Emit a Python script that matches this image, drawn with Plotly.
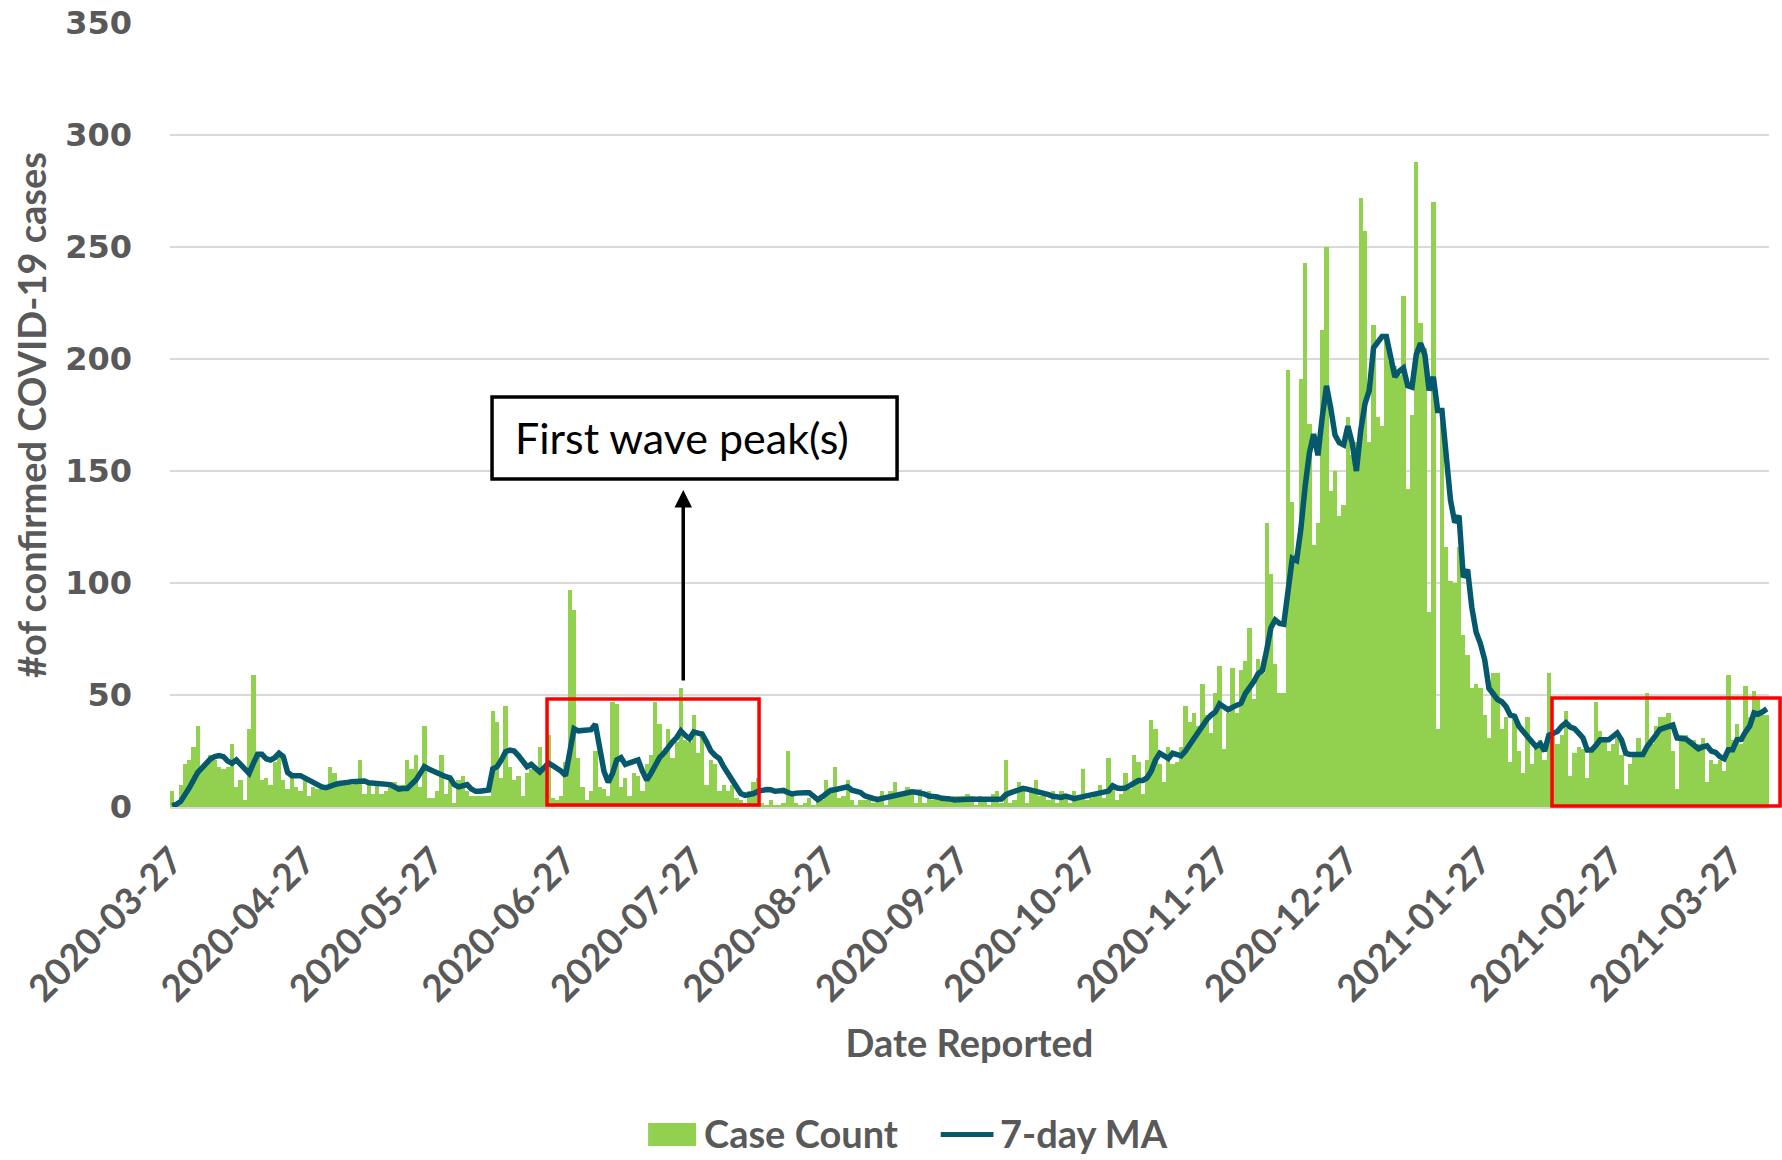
import pandas as pd
import plotly.graph_objects as go

start_date = "2020-03-27"

case_count = [
    7, 2, 10, 19, 21, 27, 36, 18, 19, 23,
    21, 18, 17, 18, 28, 9, 12, 3, 35, 59,
    24, 12, 13, 10, 20, 24, 12, 8, 13, 9,
    7, 14, 5, 9, 8, 9, 8, 18, 15, 10,
    10, 11, 10, 11, 21, 6, 10, 6, 10, 6,
    7, 9, 11, 10, 10, 21, 17, 23, 9, 36,
    4, 4, 7, 23, 6, 12, 2, 12, 14, 7,
    5, 5, 5, 5, 5, 43, 38, 13, 45, 18,
    12, 14, 5, 15, 17, 17, 27, 16, 32, 4,
    3, 5, 20, 97, 88, 22, 9, 3, 7, 25,
    9, 8, 5, 47, 46, 9, 13, 5, 15, 14,
    7, 19, 23, 47, 37, 24, 35, 22, 29, 53,
    30, 29, 41, 24, 34, 10, 21, 19, 7, 10,
    7, 10, 4, 3, 2, 7, 11, 13, 2, 1,
    3, 1, 1, 2, 25, 5, 2, 1, 2, 4,
    1, 3, 3, 12, 7, 18, 4, 5, 12, 3,
    1, 3, 3, 3, 2, 4, 7, 1, 7, 11,
    6, 5, 9, 7, 2, 8, 2, 7, 3, 5,
    5, 4, 3, 5, 5, 5, 6, 3, 1, 5,
    4, 1, 6, 7, 2, 21, 2, 3, 11, 9,
    2, 7, 12, 5, 6, 3, 7, 2, 7, 6,
    2, 7, 4, 17, 3, 4, 6, 10, 4, 22,
    8, 3, 6, 15, 8, 23, 20, 6, 21, 39,
    35, 19, 11, 27, 19, 20, 27, 45, 38, 42,
    36, 55, 41, 33, 51, 63, 26, 42, 62, 42,
    61, 65, 80, 48, 66, 60, 127, 104, 64, 51,
    51, 195, 136, 113, 191, 243, 171, 117, 127, 213,
    250, 141, 150, 130, 135, 174, 157, 163, 272, 257,
    163, 215, 174, 170, 209, 199, 197, 193, 228, 142,
    175, 288, 216, 205, 87, 270, 35, 173, 116, 101,
    100, 116, 77, 68, 53, 55, 53, 41, 31, 60,
    60, 35, 40, 20, 40, 25, 15, 40, 19, 26,
    30, 21, 60, 32, 28, 32, 43, 14, 24, 27,
    26, 13, 26, 47, 34, 31, 25, 28, 31, 23,
    10, 19, 23, 31, 24, 51, 28, 36, 40, 40,
    42, 25, 8, 32, 32, 30, 30, 28, 31, 11,
    21, 19, 21, 16, 59, 30, 37, 28, 54, 40,
    52, 49, 41, 41,
]

ma_7day = [
    0.6, 1.2, 2.5, 5, 8.5, 12, 15.5, 17.5, 19.5, 21.5,
    22.5, 23, 22.5, 20.5, 19.5, 21, 19, 17, 15, 19.5,
    23.5, 23.5, 21.5, 21, 22, 24, 22.5, 15.5, 14, 14,
    14, 13, 12, 10.5, 9.5, 9, 8.6, 9, 10, 10.5,
    11, 11, 11.3, 11.5, 11.6, 11.6, 10.8, 10.6, 10.6, 10.6,
    10.3, 10, 9, 8, 8.3, 8.3, 10.2, 12, 15, 18,
    17, 16, 15, 14, 13.5, 13, 10, 9, 9.5, 10,
    8, 7, 7, 7, 7.6, 17, 18, 21, 24.7, 25.4,
    25, 23, 20, 18, 19, 17, 15.6, 17.5, 19.6, 18.5,
    17.5, 16, 14, 24, 35, 34, 34, 34, 34.5, 37,
    26, 16, 11, 15, 21, 22, 19, 19.5, 20.5, 21,
    16, 12, 15, 19, 22, 24, 27, 29, 31, 34,
    32, 30.5, 33.5, 33, 32.4, 29, 25, 23, 21.6, 18,
    15, 11, 8, 6, 5.2, 5.5, 6, 7, 7.5, 7.8,
    7.7, 7, 7.2, 7.4, 6.5, 5.8, 6.2, 6.6, 6.4, 6.4,
    4.5, 3.3, 4.5, 6, 7.4, 7.7, 8, 8.2, 9, 7.5,
    7, 6.5, 5, 4.2, 3.8, 3.4, 3.8, 4.3, 5, 5.6,
    6, 6.3, 6.6, 6.8, 6.6, 6.4, 5.8, 4.9, 5, 4.5,
    3.9, 3.9, 3.6, 3.1, 3.3, 3.6, 3.8, 3.6, 3.5, 3.4,
    3.3, 3.2, 3.3, 3.5, 3.6, 5.5, 6.3, 6.8, 7.5, 8.3,
    8, 7.6, 6.9, 6.7, 6.5, 5.5, 4.8, 4.5, 4.3, 4.9,
    4, 3.7, 4.2, 4.6, 5.6, 6, 6.2, 6.5, 6.8, 7.1,
    9.5, 8.5, 8.3, 8.5, 9.5, 11, 11.8, 11.8, 13, 16,
    21, 24, 23, 21.7, 24, 23.5, 22.8, 25, 28, 31,
    34, 37, 39, 41, 42.4, 46, 45, 43.4, 44.5, 45.3,
    46.3, 50.6, 53, 56, 59.5, 61, 70, 80, 83.5, 82,
    81.6, 96, 111, 110, 124, 143, 158, 166.5, 157, 174,
    188, 178, 166, 162.6, 161.6, 170, 162.6, 150, 168, 180,
    186, 205, 208, 210, 210, 199.4, 192, 194.6, 196, 188,
    187.4, 202, 207, 202, 186, 192, 177, 177, 155, 137,
    127, 130, 102.5, 106, 89, 78, 73, 65.7, 53, 50,
    48, 47, 44.8, 41, 40.5, 36, 33.7, 31, 29, 27,
    28.3, 25, 32, 33, 33.7, 36, 37.6, 35.7, 35, 33,
    30.8, 25.4, 25.4, 27.5, 30, 30, 30, 31.5, 33, 30,
    24, 23.4, 23.4, 23.4, 23.4, 27, 30, 32, 34.7, 35.5,
    36, 36.6, 30.8, 30.6, 30.4, 29, 27.5, 26, 26.8, 27.3,
    25, 24.4, 22.5, 21.5, 25.6, 25.6, 30, 30.2, 33.5, 36.2,
    42, 41.5, 42.5, 43.8,
]

tick_labels = [
    "2020-03-27", "2020-04-27", "2020-05-27", "2020-06-27", "2020-07-27",
    "2020-08-27", "2020-09-27", "2020-10-27", "2020-11-27", "2020-12-27",
    "2021-01-27", "2021-02-27", "2021-03-27",
]

y_ticks = [0, 50, 100, 150, 200, 250, 300, 350]

annotation_text = "First wave peak(s)"
arrow_date = "2020-07-24 13:00"
arrow_head_value = 141.5

dates = pd.date_range(start_date, periods=len(case_count), freq="D")
half_day = pd.Timedelta(hours=12)

GREEN = "#92D050"
TEAL = "#06586C"
GRAY = "#595959"

fig = go.Figure()
fig.add_trace(go.Bar(
    x=dates, y=case_count, name="Case Count",
    marker=dict(color=GREEN, line=dict(width=0)),
))
fig.add_trace(go.Scatter(
    x=dates, y=ma_7day, name="7-day MA", mode="lines",
    line=dict(color=TEAL, width=5.5),
))

fig.update_layout(
    width=1782, height=1160,
    margin=dict(l=170, r=13, t=23, b=353, autoexpand=False),
    plot_bgcolor="white", paper_bgcolor="white",
    bargap=0, showlegend=False,
    xaxis=dict(
        type="date",
        range=[dates[0] - half_day, dates[-1] + half_day],
        tickmode="array", tickvals=tick_labels, ticktext=tick_labels,
        tickangle=-45,
        tickfont=dict(family="Lato", size=37, color=GRAY, weight="bold"),
        ticks="outside", ticklen=16, tickcolor="rgba(0,0,0,0)",
        showgrid=False, zeroline=False, showline=False,
        title=dict(text="Date Reported",
                   font=dict(family="Lato", size=38, color=GRAY, weight="bold"),
                   standoff=21),
        automargin=False,
    ),
    yaxis=dict(
        range=[0, 350], tickmode="array", tickvals=y_ticks,
        gridcolor="#D9D9D9", gridwidth=1.5,
        zeroline=True, zerolinecolor="#D9D9D9", zerolinewidth=2.5,
        tickfont=dict(family="DejaVu Sans", size=32, color=GRAY, weight="bold"),
        ticks="", ticklabelstandoff=37,
        title=dict(text="#of confirmed COVID-19 cases",
                   font=dict(family="Lato", size=38, color=GRAY, weight="bold"),
                   standoff=6),
        automargin=False,
    ),
)

shapes = [
    # first-wave highlight boxes
    dict(type="rect", xref="paper", yref="paper", x0=0.2358, x1=0.3684, y0=0.0026, y1=0.1378,
         line=dict(color="#FF0000", width=3.5), fillcolor="rgba(0,0,0,0)", layer="above"),
    dict(type="rect", xref="paper", yref="paper", x0=0.8643, x1=1.0069, y0=0.0013, y1=0.139,
         line=dict(color="#FF0000", width=3.5), fillcolor="rgba(0,0,0,0)", layer="above"),
    # annotation box
    dict(type="rect", xref="paper", yref="paper", x0=0.2014, x1=0.4547, y0=0.4184, y1=0.523,
         line=dict(color="black", width=3.5), fillcolor="white", layer="above"),
    # custom legend
    dict(type="rect", xref="paper", yref="paper", x0=0.299, x1=0.329, y0=-0.4324, y1=-0.403,
         line=dict(width=0), fillcolor=GREEN),
    dict(type="line", xref="paper", yref="paper", x0=0.482, x1=0.515, y0=-0.4177, y1=-0.4177,
         line=dict(color=TEAL, width=5)),
]
fig.update_layout(shapes=shapes)

annotations = [
    dict(text=annotation_text, xref="paper", yref="paper", x=0.2145, y=0.4707,
         xanchor="left", yanchor="middle", showarrow=False,
         font=dict(family="Lato", size=43, color="black")),
    dict(text="", x=arrow_date, y=arrow_head_value, xref="x", yref="y",
         showarrow=True, ax=0, ay=192, axref="pixel", ayref="pixel",
         arrowhead=2, arrowsize=1, arrowwidth=3.5, arrowcolor="black"),
    dict(text="Case Count", xref="paper", yref="paper", x=0.3327, y=-0.4158,
         xanchor="left", yanchor="middle", showarrow=False,
         font=dict(family="Lato", size=38, color=GRAY, weight="bold")),
    dict(text="7-day MA", xref="paper", yref="paper", x=0.518, y=-0.4158,
         xanchor="left", yanchor="middle", showarrow=False,
         font=dict(family="Lato", size=38, color=GRAY, weight="bold")),
]
fig.update_layout(annotations=annotations)

fig.write_html(
    "out.html",
    config={"displayModeBar": False},
    post_script="document.body.style.margin='0';document.body.style.overflow='hidden';",
)
